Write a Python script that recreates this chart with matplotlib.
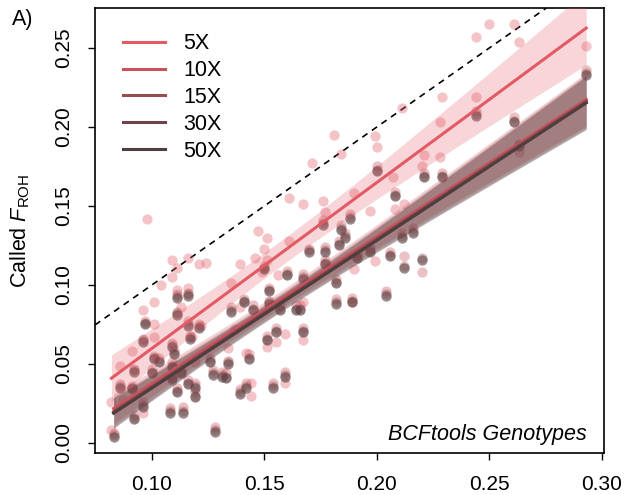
import numpy as np
import matplotlib
matplotlib.use("Agg")
import matplotlib.pyplot as plt

plt.rcParams["font.family"] = ["Liberation Sans", "DejaVu Sans"]
plt.rcParams["mathtext.fontset"] = "custom"
plt.rcParams["mathtext.rm"] = "Liberation Sans"
plt.rcParams["mathtext.it"] = "Liberation Sans:italic"

# True vs called F_ROH, 5X coverage
true_5x = [0.082, 0.082, 0.086, 0.087, 0.091, 0.096, 0.096, 0.098, 0.101, 0.101,
           0.101, 0.104, 0.109, 0.109, 0.111, 0.111, 0.113, 0.116, 0.116,
           0.118, 0.119, 0.121, 0.122, 0.124, 0.134, 0.135, 0.137, 0.139,
           0.139, 0.142, 0.144, 0.144, 0.146, 0.147, 0.149, 0.150, 0.151, 0.151,
           0.151, 0.155, 0.156, 0.159, 0.159, 0.161, 0.161, 0.167, 0.167, 0.167,
           0.171, 0.176, 0.177, 0.181, 0.184, 0.189, 0.190, 0.190, 0.197, 0.199,
           0.199, 0.200, 0.207, 0.208, 0.211, 0.212, 0.220, 0.221,
           0.228, 0.228, 0.229, 0.244, 0.244, 0.250, 0.261, 0.263, 0.293]
called_5x = [0.008, 0.026, 0.049, 0.027, 0.058, 0.019, 0.084, 0.142, 0.067, 0.075,
             0.089, 0.100, 0.116, 0.105, 0.111, 0.097, 0.086, 0.117, 0.098,
             0.067, 0.051, 0.113, 0.074, 0.114, 0.060, 0.101, 0.072, 0.113,
             0.086, 0.057, 0.038, 0.030, 0.117, 0.134, 0.108, 0.123, 0.130, 0.116,
             0.061, 0.064, 0.106, 0.069, 0.038, 0.155, 0.128, 0.151, 0.089, 0.065,
             0.177, 0.153, 0.146, 0.195, 0.183, 0.089, 0.158, 0.110, 0.147, 0.194,
             0.115, 0.187, 0.168, 0.148, 0.212, 0.151, 0.175, 0.182,
             0.203, 0.181, 0.219, 0.219, 0.257, 0.265, 0.265, 0.254, 0.251]

# True F_ROH for the higher coverages
true_froh = [0.083, 0.086, 0.091, 0.092, 0.092, 0.096, 0.096, 0.097, 0.100, 0.101,
             0.103, 0.108, 0.109, 0.109, 0.109, 0.110, 0.111, 0.111, 0.111, 0.113,
             0.114, 0.116, 0.116, 0.116, 0.117, 0.119, 0.119, 0.121, 0.126, 0.127,
             0.128, 0.131, 0.133, 0.134, 0.135, 0.139, 0.141, 0.142, 0.143, 0.145,
             0.150, 0.151, 0.152, 0.152, 0.154, 0.155, 0.157, 0.159, 0.160, 0.164,
             0.166, 0.167, 0.167, 0.170, 0.176, 0.177, 0.177, 0.182, 0.182, 0.183,
             0.184, 0.186, 0.188, 0.189, 0.191, 0.197, 0.200, 0.204, 0.206, 0.208,
             0.211, 0.212, 0.216, 0.220, 0.221, 0.229, 0.244, 0.261, 0.263, 0.293]
called_10x = [0.006, 0.037, 0.036, 0.018, 0.047, 0.026, 0.066, 0.077, 0.047, 0.055,
              0.054, 0.022, 0.063, 0.051, 0.043, 0.059, 0.035, 0.083, 0.094, 0.047,
              0.023, 0.077, 0.095, 0.040, 0.068, 0.032, 0.038, 0.075, 0.054, 0.046,
              0.010, 0.045, 0.044, 0.052, 0.086, 0.034, 0.091, 0.038, 0.056, 0.087,
              0.112, 0.068, 0.098, 0.090, 0.038, 0.073, 0.087, 0.045, 0.109, 0.087,
              0.087, 0.107, 0.073, 0.123, 0.141, 0.116, 0.124, 0.104, 0.091, 0.128,
              0.138, 0.133, 0.145, 0.092, 0.120, 0.124, 0.175, 0.096, 0.121, 0.159,
              0.133, 0.118, 0.136, 0.108, 0.171, 0.171, 0.210, 0.206, 0.184, 0.236]
called_15x = [0.005, 0.036, 0.035, 0.016, 0.046, 0.024, 0.065, 0.076, 0.045, 0.054,
              0.052, 0.020, 0.062, 0.049, 0.041, 0.057, 0.033, 0.082, 0.093, 0.045,
              0.020, 0.075, 0.094, 0.038, 0.067, 0.030, 0.036, 0.074, 0.052, 0.044,
              0.008, 0.043, 0.042, 0.051, 0.084, 0.032, 0.090, 0.036, 0.054, 0.085,
              0.111, 0.066, 0.097, 0.089, 0.036, 0.071, 0.085, 0.043, 0.107, 0.085,
              0.085, 0.105, 0.071, 0.122, 0.139, 0.114, 0.122, 0.102, 0.089, 0.126,
              0.136, 0.131, 0.143, 0.090, 0.118, 0.122, 0.173, 0.094, 0.119, 0.157,
              0.131, 0.112, 0.134, 0.117, 0.169, 0.169, 0.208, 0.204, 0.189, 0.234]
called_30x = [0.004, 0.035, 0.035, 0.015, 0.045, 0.023, 0.064, 0.075, 0.044, 0.054,
              0.051, 0.019, 0.061, 0.048, 0.041, 0.056, 0.032, 0.081, 0.092, 0.044,
              0.019, 0.074, 0.093, 0.037, 0.066, 0.029, 0.035, 0.073, 0.051, 0.043,
              0.007, 0.042, 0.041, 0.050, 0.083, 0.031, 0.089, 0.035, 0.053, 0.084,
              0.110, 0.065, 0.096, 0.088, 0.035, 0.070, 0.084, 0.042, 0.106, 0.084,
              0.084, 0.104, 0.070, 0.121, 0.138, 0.113, 0.121, 0.101, 0.088, 0.125,
              0.135, 0.130, 0.142, 0.089, 0.117, 0.121, 0.172, 0.093, 0.118, 0.156,
              0.130, 0.111, 0.133, 0.116, 0.168, 0.168, 0.207, 0.203, 0.188, 0.233]
called_50x = [0.004, 0.035, 0.034, 0.015, 0.045, 0.023, 0.064, 0.075, 0.044, 0.053,
              0.051, 0.019, 0.061, 0.048, 0.040, 0.056, 0.032, 0.081, 0.092, 0.044,
              0.019, 0.074, 0.093, 0.037, 0.066, 0.029, 0.035, 0.073, 0.051, 0.043,
              0.007, 0.042, 0.041, 0.050, 0.083, 0.031, 0.089, 0.035, 0.053, 0.084,
              0.110, 0.065, 0.096, 0.088, 0.035, 0.070, 0.084, 0.042, 0.106, 0.084,
              0.084, 0.104, 0.070, 0.121, 0.138, 0.113, 0.121, 0.101, 0.088, 0.125,
              0.135, 0.130, 0.142, 0.089, 0.117, 0.121, 0.172, 0.093, 0.118, 0.156,
              0.130, 0.111, 0.133, 0.116, 0.168, 0.168, 0.207, 0.203, 0.188, 0.233]

coverages = ["5X", "10X", "15X", "30X", "50X"]
colors = ["#E35A64", "#C9535C", "#9A4A50", "#6E4448", "#4D3F40"]
series = [
    (true_5x, called_5x),
    (true_froh, called_10x),
    (true_froh, called_15x),
    (true_froh, called_30x),
    (true_froh, called_50x),
]


def fit_with_ci(x, y, t_crit=1.99):
    # simple OLS line with a 95% confidence band for the mean
    x = np.asarray(x)
    y = np.asarray(y)
    slope, intercept = np.polyfit(x, y, 1)
    resid = y - (slope * x + intercept)
    n = len(x)
    s = np.sqrt(np.sum(resid ** 2) / (n - 2))
    xs = np.linspace(x.min(), x.max(), 100)
    ys = slope * xs + intercept
    se = s * np.sqrt(1 / n + (xs - x.mean()) ** 2 / np.sum((x - x.mean()) ** 2))
    return xs, ys, ys - t_crit * se, ys + t_crit * se


fig = plt.figure(figsize=(6.25, 4.95), dpi=100)
ax = fig.add_axes([0.152, 0.085, 0.8144, 0.899])

# 1:1 line
ax.axline((0, 0), slope=1, color="black", lw=1.2, linestyle=(0, (3.8, 3.2)), zorder=1)

for (x, y), col in zip(series, colors):
    ax.scatter(x, y, s=55, color=col, alpha=0.36, linewidths=0, zorder=2)

for (x, y), col, lab in zip(series, colors, coverages):
    xs, ys, lo, hi = fit_with_ci(x, y)
    ax.fill_between(xs, lo, hi, color=col, alpha=0.25, linewidth=0, zorder=3)
    ax.plot(xs, ys, color=col, lw=2.2, label=lab, zorder=4)

ax.set_xlim(0.0747, 0.3009)
ax.set_ylim(-0.0063, 0.2753)
ax.set_xticks([0.10, 0.15, 0.20, 0.25, 0.30])
ax.set_xticklabels(["0.10", "0.15", "0.20", "0.25", "0.30"])
ax.set_yticks([0.00, 0.05, 0.10, 0.15, 0.20, 0.25])
ax.set_yticklabels(["0.00", "0.05", "0.10", "0.15", "0.20", "0.25"],
                   rotation=90, va="center")
ax.tick_params(direction="out", length=5, width=1, labelsize=15, pad=11)
for sp in ax.spines.values():
    sp.set_linewidth(1.2)

ax.set_ylabel(r"Called $\mathit{F}_{\mathrm{ROH}}$", fontsize=15.5, labelpad=16)

ax.legend(loc="upper left", bbox_to_anchor=(0.055, 0.943), frameon=False,
          fontsize=15.5, handlelength=1.95, handletextpad=0.85,
          labelspacing=0.27, borderpad=0, borderaxespad=0)

ax.text(0.967, 0.018, "BCFtools Genotypes", transform=ax.transAxes,
        ha="right", va="bottom", fontsize=15.5, style="italic")
fig.text(0.019, 0.96, "A)", fontsize=15.5, va="center")

fig.savefig("out.png", dpi=100)
